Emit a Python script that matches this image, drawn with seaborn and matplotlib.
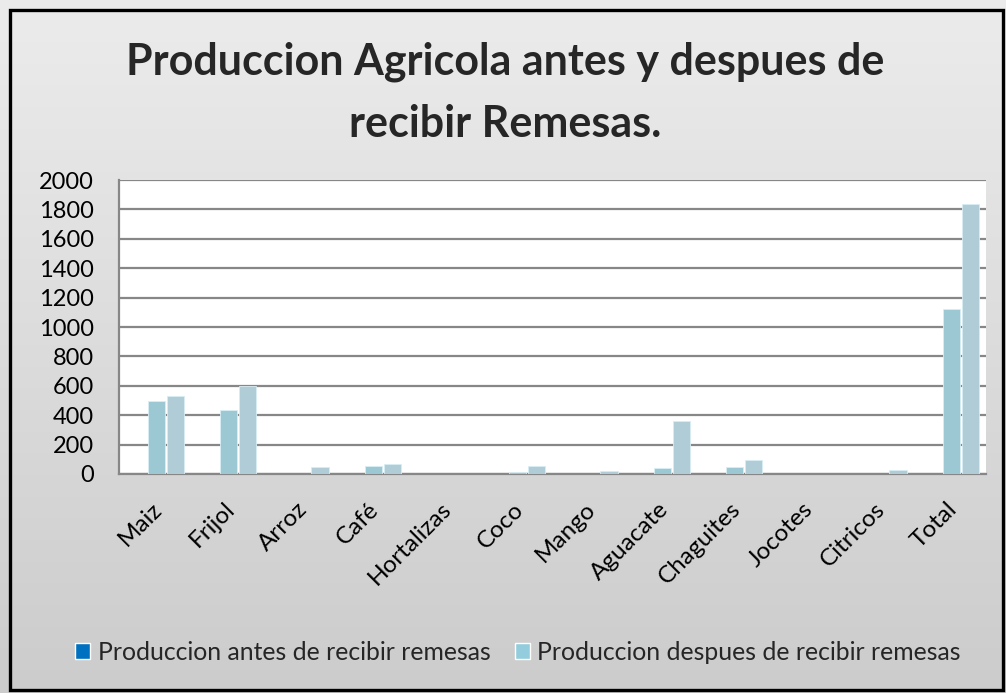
import numpy as np
import pandas as pd
import matplotlib
matplotlib.use("Agg")
import matplotlib.pyplot as plt
import matplotlib.transforms as mtrans
import seaborn as sns
from matplotlib.patches import Patch, Rectangle

categorias = ["Maiz", "Frijol", "Arroz", "Café", "Hortalizas", "Coco", "Mango",
              "Aguacate", "Chaguites", "Jocotes", "Citricos", "Total"]
antes = [500, 435, 0, 55, 0, 12, 3, 38, 45, 0, 2, 1125]
despues = [530, 600, 48, 68, 0, 52, 20, 360, 95, 0, 25, 1838]
serie_antes = "Produccion antes de recibir remesas"
serie_despues = "Produccion despues de recibir remesas"
yticks = [0, 200, 400, 600, 800, 1000, 1200, 1400, 1600, 1800, 2000]

df = pd.DataFrame({
    "cat": categorias * 2,
    "valor": antes + despues,
    "serie": [serie_antes] * len(categorias) + [serie_despues] * len(categorias),
})

sns.set_theme(style="white")
plt.rcParams["font.family"] = ["Lato", "DejaVu Sans"]

W, H = 1006, 693
fig = plt.figure(figsize=(W / 100, H / 100), dpi=100)

# gradient background
bg = fig.add_axes([0, 0, 1, 1], zorder=-10)
grad = np.linspace(0.925, 0.80, 256).reshape(-1, 1)
bg.imshow(np.dstack([grad, grad, grad]), aspect="auto", extent=[0, 1, 0, 1], origin="upper")
bg.set_xlim(0, 1); bg.set_ylim(0, 1)
bg.axis("off")
bg.add_patch(Rectangle((10 / W, 1 - 690 / H), 993 / W, 680 / H, fill=False,
                       edgecolor="black", linewidth=2.4, transform=bg.transAxes))

ax = fig.add_axes([119 / W, 1 - 474 / H, 867 / W, 294 / H])
ax.set_facecolor("white")
sns.barplot(data=df, x="cat", y="valor", hue="serie", order=categorias,
            hue_order=[serie_antes, serie_despues],
            palette=["#93CDDD", "#AACFDC"], width=0.53, gap=0.1,
            edgecolor="#d8eef4", linewidth=0.6, ax=ax, legend=False, zorder=3)

ax.set_ylim(0, 2000)
ax.set_xlim(-0.65, 11.35)
ax.set_yticks(yticks)
ax.set_yticklabels([str(v) for v in yticks], fontsize=17, color="black")
ax.yaxis.grid(True, color="#878787", linewidth=1.6, zorder=0)
ax.set_axisbelow(True)
ax.set_xlabel("")
ax.set_ylabel("")
ax.tick_params(axis="y", length=0, pad=18)
ax.tick_params(axis="x", length=0, pad=23)
ax.set_xticks(range(len(categorias)))
ax.set_xticklabels(categorias, rotation=45, ha="right", va="center",
                   rotation_mode="anchor", fontsize=17.5, color="black")
shift = mtrans.ScaledTranslation(-7 / 100, 0, fig.dpi_scale_trans)
for lab in ax.get_xticklabels():
    lab.set_transform(lab.get_transform() + shift)
for s in ["top", "right"]:
    ax.spines[s].set_visible(False)
ax.spines["left"].set_color("#878787")
ax.spines["left"].set_linewidth(1.6)
ax.spines["bottom"].set_color("#878787")
ax.spines["bottom"].set_linewidth(1.6)

fig.text(505 / W, 1 - 62 / H, "Produccion Agricola antes y despues de",
         ha="center", va="center", fontsize=31, fontweight="bold")
fig.text(505 / W, 1 - 124 / H, "recibir Remesas.",
         ha="center", va="center", fontsize=31, fontweight="bold")

handles = [Patch(facecolor="#0070C0", label=serie_antes),
           Patch(facecolor="#93CDDD", label=serie_despues)]
fig.legend(handles=handles, loc="center", bbox_to_anchor=(518 / W, 1 - 652 / H),
           ncol=2, frameon=False, fontsize=17.8, handlelength=0.6, handleheight=0.6,
           handletextpad=0.3, columnspacing=1.0)

fig.savefig("out.png", dpi=100)
